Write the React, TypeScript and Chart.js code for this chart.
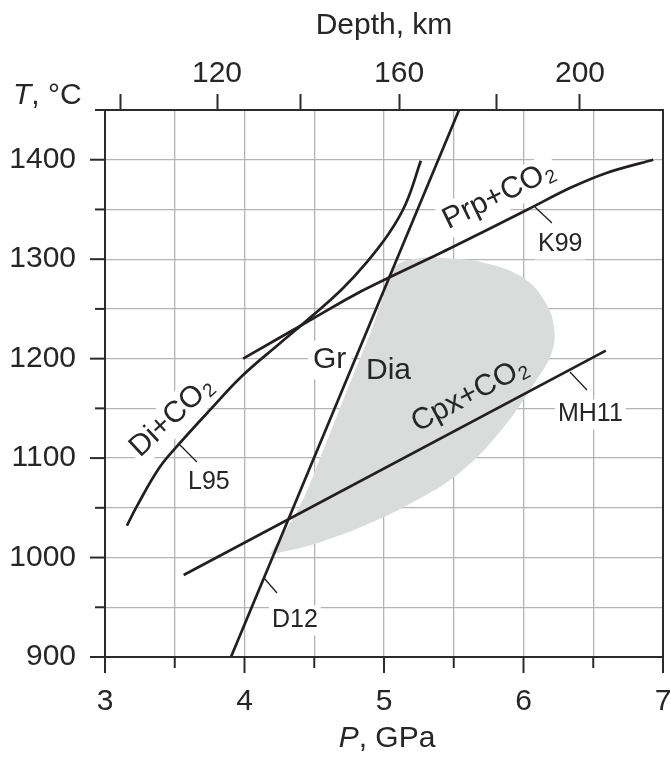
import React, { useEffect, useRef } from 'react';
import { Chart, registerables } from 'chart.js';

Chart.register(...registerables);

const FONT = '"Liberation Sans", Arial, Helvetica, sans-serif';
const INK = '#262626';
const LINE = '#231f20';
const GRID = '#b4b4b4';
const FIELD = '#dadbdb';

// Axes
const pressureMin = 3;
const pressureMax = 7;
const pressureStep = 0.5;
const temperatureMin = 900;
const temperatureMax = 1450;
const temperatureStep = 50;
const depthTicksKm = [100, 120, 140, 160, 180, 200];
const depthTicksAtPressure = [3.108, 3.803, 4.405, 5.108, 5.803, 6.405];
const depthLabelled = [120, 160, 200];

// Di+CO2 (L95)
const diCO2Pressure = [3.157, 3.226, 3.393, 3.536, 3.75, 3.986, 4.25, 4.486, 4.7, 4.871, 5.036, 5.157, 5.264];
const diCO2Temperature = [1032, 1051, 1091, 1115, 1148, 1183, 1215, 1243, 1270, 1296, 1326, 1356, 1399];

// Prp+CO2 (K99)
const prpCO2Pressure = [3.99, 4.5, 4.84, 5.46, 6.03, 6.34, 6.6, 6.93];
const prpCO2Temperature = [1200, 1241, 1268, 1310, 1350, 1372, 1387, 1400];

// Cpx+CO2 (MH11)
const cpxCO2Pressure = [3.564, 6.59];
const cpxCO2Temperature = [982.5, 1208];

// Graphite / diamond (D12)
const grDiaPressure = [3.903, 5.538];
const grDiaTemperature = [900, 1450];

// Grey field
const fieldPressure = [4.18, 4.39, 4.57, 4.74, 4.9, 5.0, 5.06, 5.2, 5.45, 5.7, 5.99, 6.16, 6.22, 6.2, 6.09, 5.84, 5.54, 5.2, 4.84, 4.55, 4.35, 4.18];
const fieldTemperature = [1003, 1050, 1110, 1170, 1225, 1265, 1290, 1300, 1301, 1297, 1282, 1256, 1229, 1205, 1178, 1128, 1085, 1055, 1031, 1016, 1008, 1003];

type Label = { text: string; sub?: string; p: number; t: number; angle: number; size: number; halo: string; pad: number };

const curveLabels: Label[] = [
  { text: 'Di+CO', sub: '2', p: 3.25, t: 1100, angle: -43, size: 30, halo: '#ffffff', pad: 3 },
  { text: 'Prp+CO', sub: '2', p: 5.46, t: 1330, angle: -26, size: 30, halo: '#ffffff', pad: 3 },
  { text: 'Cpx+CO', sub: '2', p: 5.24, t: 1126, angle: -28, size: 30, halo: FIELD, pad: 3 },
  { text: 'Gr', p: 4.491, t: 1190.6, angle: 0, size: 30, halo: '#ffffff', pad: 5 },
  { text: 'Dia', p: 4.871, t: 1179.5, angle: 0, size: 30, halo: FIELD, pad: 4 },
  { text: 'L95', p: 3.595, t: 1068.9, angle: 0, size: 25, halo: '#ffffff', pad: 3 },
  { text: 'K99', p: 6.104, t: 1308.2, angle: 0, size: 25, halo: '#ffffff', pad: 3 },
  { text: 'MH11', p: 6.247, t: 1137.3, angle: 0, size: 25, halo: '#ffffff', pad: 3 },
  { text: 'D12', p: 4.197, t: 930.2, angle: 0, size: 25, halo: '#ffffff', pad: 3 },
];

const leaderLines = [
  { p1: 3.523, t1: 1115.2, p2: 3.659, t2: 1096.1 },
  { p1: 6.082, t1: 1352.5, p2: 6.204, t2: 1336.4 },
  { p1: 6.333, t1: 1186.6, p2: 6.455, t2: 1168.5 },
  { p1: 4.14, t1: 979.4, p2: 4.233, t2: 964.4 },
];

const toXY = (p: number[], t: number[]) => p.map((v, i) => ({ x: v, y: t[i] }));

const labelMetrics = (ctx: CanvasRenderingContext2D, l: Label) => {
  ctx.font = `${l.size}px ${FONT}`;
  const w = ctx.measureText(l.text).width;
  let sw = 0;
  if (l.sub) {
    ctx.font = `${Math.round(l.size * 0.62)}px ${FONT}`;
    sw = ctx.measureText(l.sub).width + 1;
  }
  return { w, sw };
};

const decorPlugin = {
  id: 'decor',
  afterDatasetDraw(chart: any, args: any) {
    if (args.index !== 0) return;
    const ctx: CanvasRenderingContext2D = chart.ctx;
    const { x, y } = chart.scales;
    const a = chart.chartArea;
    ctx.save();
    ctx.beginPath();
    ctx.rect(a.left, a.top, a.right - a.left, a.bottom - a.top);
    ctx.clip();
    curveLabels.forEach((l) => {
      const { w, sw } = labelMetrics(ctx, l);
      ctx.save();
      ctx.translate(x.getPixelForValue(l.p), y.getPixelForValue(l.t));
      ctx.rotate((l.angle * Math.PI) / 180);
      ctx.fillStyle = l.halo;
      const cap = l.size * 0.74;
      const desc = l.size * 0.22;
      ctx.fillRect(-l.pad, -cap - l.pad, w + sw + 2 * l.pad, cap + desc + 2 * l.pad);
      ctx.restore();
    });
    ctx.restore();
  },
  afterDatasetsDraw(chart: any) {
    const ctx: CanvasRenderingContext2D = chart.ctx;
    const { x, y } = chart.scales;
    const a = chart.chartArea;
    ctx.save();
    ctx.strokeStyle = LINE;
    ctx.lineWidth = 1.3;
    leaderLines.forEach((l) => {
      ctx.beginPath();
      ctx.moveTo(x.getPixelForValue(l.p1), y.getPixelForValue(l.t1));
      ctx.lineTo(x.getPixelForValue(l.p2), y.getPixelForValue(l.t2));
      ctx.stroke();
    });
    ctx.fillStyle = INK;
    ctx.textAlign = 'left';
    ctx.textBaseline = 'alphabetic';
    curveLabels.forEach((l) => {
      const { w } = labelMetrics(ctx, l);
      ctx.save();
      ctx.translate(x.getPixelForValue(l.p), y.getPixelForValue(l.t));
      ctx.rotate((l.angle * Math.PI) / 180);
      ctx.font = `${l.size}px ${FONT}`;
      ctx.fillText(l.text, 0, 0);
      if (l.sub) {
        ctx.font = `${Math.round(l.size * 0.62)}px ${FONT}`;
        ctx.fillText(l.sub, w + 1, l.size * 0.13);
      }
      ctx.restore();
    });
    ctx.strokeStyle = '#2b2b2b';
    ctx.lineWidth = 2;
    ctx.strokeRect(a.left, a.top, a.right - a.left, a.bottom - a.top);
    x.ticks.forEach((t: any) => {
      const px = x.getPixelForValue(t.value);
      const major = Math.abs(t.value - Math.round(t.value)) < 1e-6;
      ctx.beginPath();
      ctx.moveTo(px, a.bottom);
      ctx.lineTo(px, a.bottom + (major ? 16 : 11));
      ctx.stroke();
    });
    y.ticks.forEach((t: any) => {
      const py = y.getPixelForValue(t.value);
      const major = Math.round(t.value) % 100 === 0;
      ctx.beginPath();
      ctx.moveTo(a.left, py);
      ctx.lineTo(a.left - (major ? 15 : 10), py);
      ctx.stroke();
    });
    ctx.restore();
  },
  afterDraw(chart: any) {
    const ctx: CanvasRenderingContext2D = chart.ctx;
    const a = chart.chartArea;
    const drawMixed = (parts: { s: string; italic: boolean }[], cx: number | null, left: number | null, base: number) => {
      const widths = parts.map((p) => {
        ctx.font = `${p.italic ? 'italic ' : ''}30px ${FONT}`;
        return ctx.measureText(p.s).width;
      });
      const total = widths.reduce((s, v) => s + v, 0);
      let xx = left !== null ? left : (cx as number) - total / 2;
      parts.forEach((p, i) => {
        ctx.font = `${p.italic ? 'italic ' : ''}30px ${FONT}`;
        ctx.fillText(p.s, xx, base);
        xx += widths[i];
      });
    };
    ctx.save();
    ctx.fillStyle = INK;
    ctx.textAlign = 'left';
    ctx.textBaseline = 'alphabetic';
    drawMixed([{ s: 'Depth, km', italic: false }], (a.left + a.right) / 2, null, 34);
    drawMixed([{ s: 'T', italic: true }, { s: ', °C', italic: false }], null, 13, 104);
    drawMixed([{ s: 'P', italic: true }, { s: ', GPa', italic: false }], (a.left + a.right) / 2 + 3, null, 747);
    ctx.restore();
  },
};

export default function App() {
  const ref = useRef<HTMLCanvasElement | null>(null);
  useEffect(() => {
    if (!ref.current) return;
    const lineDs = (data: any[]) => ({
      data,
      showLine: true,
      borderColor: LINE,
      borderWidth: 2.7,
      pointRadius: 0,
      tension: 0.4,
      fill: false,
      order: 0,
    });
    const chart = new Chart(ref.current, {
      type: 'scatter',
      data: {
        datasets: [
          {
            data: toXY(fieldPressure, fieldTemperature),
            showLine: true,
            borderWidth: 0,
            borderColor: FIELD,
            backgroundColor: FIELD,
            pointRadius: 0,
            tension: 0.4,
            fill: 'shape',
            order: 10,
          } as any,
          lineDs(toXY(diCO2Pressure, diCO2Temperature)),
          { ...lineDs(toXY(prpCO2Pressure, prpCO2Temperature)), tension: 0.3 },
          { ...lineDs(toXY(cpxCO2Pressure, cpxCO2Temperature)), tension: 0 },
          { ...lineDs(toXY(grDiaPressure, grDiaTemperature)), tension: 0 },
        ],
      },
      options: {
        responsive: false,
        animation: false,
        devicePixelRatio: 1,
        layout: { padding: 0 },
        plugins: { legend: { display: false }, tooltip: { enabled: false }, title: { display: false } },
        scales: {
          x: {
            type: 'linear',
            position: 'bottom',
            min: pressureMin,
            max: pressureMax,
            afterFit: (s: any) => { s.height = 100; s.paddingLeft = 8; s.paddingRight = 8; },
            ticks: {
              stepSize: pressureStep,
              autoSkip: false,
              maxRotation: 0,
              padding: 27,
              color: INK,
              font: { family: FONT, size: 30 },
              callback: (v: any) => (Math.abs(v - Math.round(v)) < 1e-6 ? String(Math.round(v)) : ''),
            },
            grid: { color: GRID, lineWidth: 1.3, drawTicks: false },
            border: { display: false },
          },
          x2: {
            type: 'linear',
            position: 'top',
            min: pressureMin,
            max: pressureMax,
            afterFit: (s: any) => { s.height = 110; s.paddingLeft = 0; s.paddingRight = 0; },
            afterBuildTicks: (s: any) => { s.ticks = depthTicksAtPressure.map((v) => ({ value: v })); },
            ticks: {
              autoSkip: false,
              maxRotation: 0,
              padding: 2,
              color: INK,
              font: { family: FONT, size: 30 },
              callback: (_v: any, i: number) => (depthLabelled.includes(depthTicksKm[i]) ? String(depthTicksKm[i]) : ''),
            },
            grid: { drawOnChartArea: false, drawTicks: true, tickLength: 16, tickColor: '#2b2b2b', tickWidth: 2, color: '#2b2b2b' },
            border: { display: false },
          },
          y: {
            type: 'linear',
            position: 'left',
            min: temperatureMin,
            max: temperatureMax,
            afterFit: (s: any) => { s.width = 105; s.paddingTop = 0; s.paddingBottom = 0; },
            ticks: {
              stepSize: temperatureStep,
              autoSkip: false,
              padding: 29,
              color: INK,
              font: { family: FONT, size: 30 },
              callback: (v: any) => (Math.round(v) % 100 === 0 ? String(Math.round(v)) : ''),
            },
            grid: { color: GRID, lineWidth: 1.3, drawTicks: false },
            border: { display: false },
          },
        },
      },
      plugins: [decorPlugin],
    } as any);
    return () => chart.destroy();
  }, []);
  return (
    <div style={{ position: 'absolute', left: 0, top: 0, width: 671, height: 757, background: '#ffffff' }}>
      <canvas ref={ref} width={671} height={757} style={{ display: 'block' }} />
    </div>
  );
}
